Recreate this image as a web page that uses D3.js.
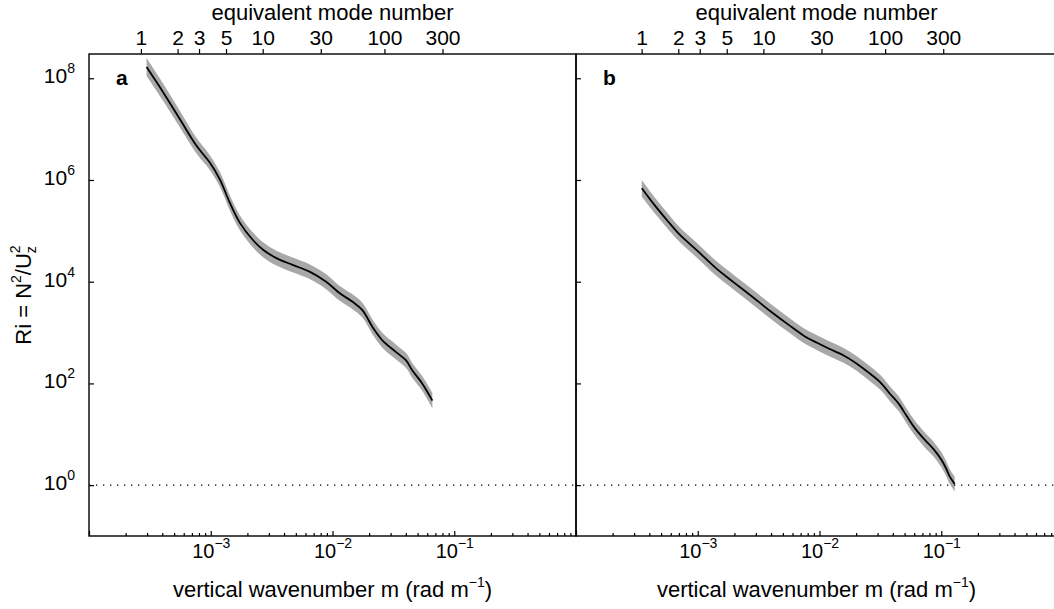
<!DOCTYPE html>
<html>
<head>
<meta charset="utf-8">
<title>Ri spectra</title>
<script src="https://cdn.jsdelivr.net/npm/d3@7"></script>
<style>
body { margin:0; background:#fff; }
svg { display:block; font-family:"Liberation Sans", Arial, Helvetica, sans-serif; }
.frame { fill:none; stroke:#000; stroke-width:1.4; }
.tick line { stroke:#000; stroke-width:1.2; }
.band { fill:#a8a8a8; stroke:none; }
.ri { fill:none; stroke:#000; stroke-width:1.8; }
.unity { stroke:#000; stroke-width:1.3; stroke-dasharray:1.3 5.7; }
</style>
</head>
<body>
<div id="chart"></div>
<script>

// panel a : wavenumber (rad/m), Richardson number, band factor
var mA = [2.97e-4, 4.06e-4, 5.57e-4, 7.64e-4, 9.82e-4, 1.19e-3, 1.43e-3, 1.73e-3, 2.21e-3, 2.69e-3,
          3.46e-3, 4.70e-3, 6.47e-3, 8.87e-3, 1.14e-2, 1.46e-2, 1.76e-2, 2.13e-2, 2.57e-2, 3.33e-2,
          4.02e-2, 4.53e-2, 5.47e-2, 6.61e-2];
var riA = [1.66e8, 5.33e7, 1.58e7, 4.69e6, 2.20e6, 1.02e6, 3.61e5, 1.45e5, 6.68e4, 4.25e4,
           2.91e4, 2.14e4, 1.58e4, 1.0e4, 5.98e3, 4.03e3, 2.76e3, 1.29e3, 705, 413,
           283, 179, 99, 46];
var bandA = [1.5, 1.48, 1.45, 1.42, 1.4, 1.4, 1.4, 1.4, 1.4, 1.4,
             1.4, 1.4, 1.4, 1.4, 1.4, 1.4, 1.4, 1.4, 1.4, 1.4,
             1.4, 1.4, 1.4, 1.42];

// panel b
var mB = [3.47e-4, 4.47e-4, 5.62e-4, 7.08e-4, 1.0e-3, 1.41e-3, 2.0e-3, 2.82e-3, 3.98e-3, 5.62e-3,
          7.59e-3, 9.55e-3, 1.20e-2, 1.58e-2, 2.0e-2, 2.51e-2, 3.16e-2, 3.80e-2, 4.47e-2, 5.25e-2,
          6.03e-2, 7.24e-2, 8.71e-2, 0.100, 0.110, 0.117, 0.129];
var riB = [6.9e5, 3.1e5, 1.6e5, 8.5e4, 4.0e4, 1.85e4, 9.5e3, 5.0e3, 2.6e3, 1.4e3,
           840, 630, 480, 355, 250, 166, 105, 62, 40, 22,
           13.5, 8.0, 5.0, 3.2, 2.1, 1.5, 1.05];
var bandB = [1.45, 1.43, 1.42, 1.4, 1.4, 1.4, 1.4, 1.4, 1.4, 1.4,
             1.4, 1.4, 1.4, 1.4, 1.4, 1.4, 1.4, 1.4, 1.4, 1.4,
             1.4, 1.4, 1.4, 1.4, 1.4, 1.4, 1.4];

var modeTicks = [1, 2, 3, 5, 10, 30, 100, 300];
var modeBaseA = 2.67e-4, modeBaseB = 3.46e-4;   // wavenumber of mode 1
var riTicks = [1, 1e2, 1e4, 1e6, 1e8];
var mMajor = [1e-4, 1e-3, 1e-2, 1e-1];


var width = 1054,
    height = 609,
    yTop = 54,
    yBot = 536;

var svg = d3.select("#chart").append("svg")
    .attr("width", width)
    .attr("height", height);

var y = d3.scaleLog().domain([0.1, 3e8]).range([yBot, yTop]);

var panels = [
    {x0: 89,  x1: 576,  m: mA, ri: riA, band: bandA, base: modeBaseA, label: "a"},
    {x0: 576, x1: 1063, m: mB, ri: riB, band: bandB, base: modeBaseB, label: "b"}
];

// minor ticks 2..9 for each decade
var mMinor = [];
mMajor.forEach(function(d) {
    for (var k = 2; k <= 9; k++) mMinor.push(d * k);
});

function supLabel(sel, base, exp, size, supSize, rise) {
    sel.text(null);
    sel.append("tspan").attr("font-size", size).text(base);
    sel.append("tspan").attr("font-size", supSize).attr("dy", -rise).text(exp);
}

panels.forEach(function(p, i) {
    var x = d3.scaleLog().domain([1e-4, 1]).range([p.x0, p.x1]);
    var g = svg.append("g");

    // shaded band
    var pts = p.m.map(function(d, j) { return {m: d, ri: p.ri[j], f: p.band[j]}; });
    var area = d3.area()
        .x(function(d) { return x(d.m); })
        .y0(function(d) { return y(d.ri / d.f); })
        .y1(function(d) { return y(d.ri * d.f); })
        .curve(d3.curveCatmullRom);
    g.append("path").attr("class", "band").attr("d", area(pts));

    var line = d3.line()
        .x(function(d) { return x(d.m); })
        .y(function(d) { return y(d.ri); })
        .curve(d3.curveCatmullRom);
    g.append("path").attr("class", "ri").attr("d", line(pts));

    // Ri = 1
    g.append("line").attr("class", "unity")
        .attr("x1", p.x0).attr("x2", p.x1)
        .attr("y1", y(1)).attr("y2", y(1));

    // bottom axis, ticks pointing in
    var minor = g.append("g")
        .attr("transform", "translate(0," + yBot + ")")
        .call(d3.axisBottom(x).tickValues(mMinor).tickSize(-3).tickFormat(""));
    minor.select(".domain").remove();

    var major = g.append("g")
        .attr("transform", "translate(0," + yBot + ")")
        .call(d3.axisBottom(x).tickValues(mMajor).tickSize(-5).tickPadding(22));
    major.select(".domain").remove();
    major.selectAll(".tick text").attr("fill", "#000").each(function(d) {
        if (d === 1e-4) { d3.select(this).remove(); return; }
        supLabel(d3.select(this).attr("dy", null), "10", "\u2212" + Math.round(-Math.log10(d)), 20, 14, 10);
    });

    // left axis
    var left = g.append("g")
        .attr("transform", "translate(" + p.x0 + ",0)")
        .call(d3.axisLeft(y).tickValues(riTicks).tickSize(-5).tickPadding(14));
    left.select(".domain").remove();
    if (i === 0) {
        left.selectAll(".tick text").attr("fill", "#000").attr("dy", "0.45em").each(function(d) {
            supLabel(d3.select(this), "10", Math.round(Math.log10(d)), 21, 14, 10);
        });
    } else {
        left.selectAll(".tick text").remove();
    }

    // top axis: equivalent mode number
    var top = g.append("g")
        .attr("transform", "translate(0," + yTop + ")")
        .call(d3.axisTop(x)
            .tickValues(modeTicks.map(function(n) { return n * p.base; }))
            .tickSize(5).tickPadding(4)
            .tickFormat(function(d, j) { return modeTicks[j]; }));
    top.select(".domain").remove();
    top.selectAll(".tick text").attr("fill", "#000").attr("font-size", 21);

    g.append("rect").attr("class", "frame")
        .attr("x", p.x0).attr("y", yTop)
        .attr("width", p.x1 - p.x0).attr("height", yBot - yTop);

    var cx = (p.x0 + p.x1) / 2 - (i === 1 ? 3 : 0);
    g.append("text")
        .attr("x", cx).attr("y", 20)
        .attr("text-anchor", "middle").attr("font-size", 22)
        .text("equivalent mode number");

    var xt = g.append("text")
        .attr("x", cx).attr("y", 597)
        .attr("text-anchor", "middle").attr("font-size", 22);
    xt.append("tspan").text("vertical wavenumber m (rad m");
    xt.append("tspan").attr("font-size", 14).attr("dy", -10).text("\u22121");
    xt.append("tspan").attr("dy", 10).text(")");

    g.append("text")
        .attr("x", p.x0 + 27).attr("y", 85)
        .attr("font-size", 21).attr("font-weight", "bold")
        .text(p.label);
});

// y title
var yt = svg.append("text")
    .attr("transform", "translate(31,295) rotate(-90)")
    .attr("text-anchor", "middle").attr("font-size", 22);
yt.append("tspan").text("Ri = N");
yt.append("tspan").attr("font-size", 14).attr("dy", -10).text("2");
yt.append("tspan").attr("dy", 10).text("/U");
yt.append("tspan").attr("font-size", 14).attr("dy", 5).text("z");
yt.append("tspan").attr("font-size", 14).attr("dy", -16).attr("dx", -7).text("2");

</script>
</body>
</html>
